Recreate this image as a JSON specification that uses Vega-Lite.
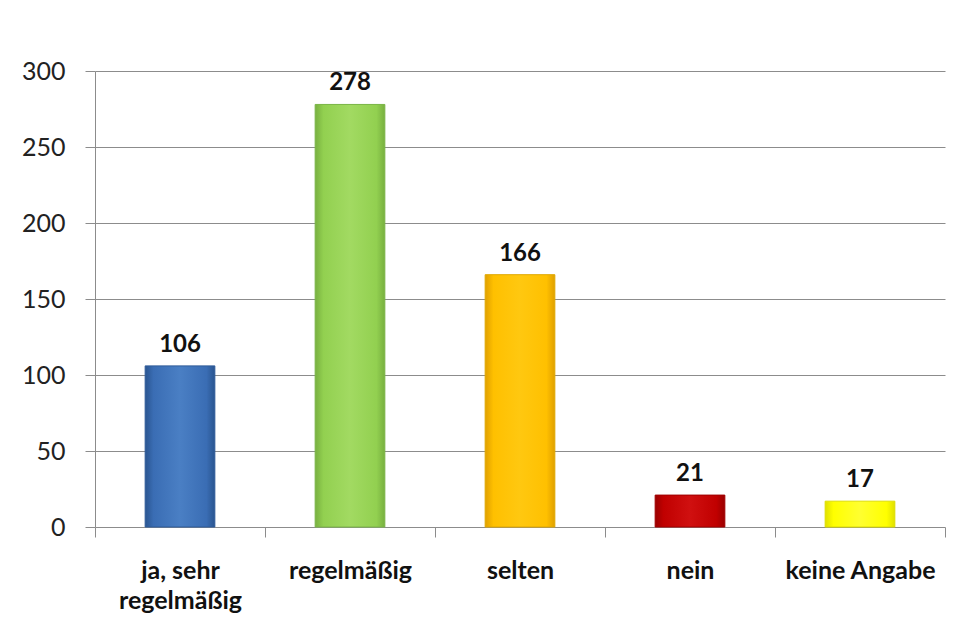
{
  "$schema": "https://vega.github.io/schema/vega-lite/v6.json",
  "autosize": "none",
  "width": 865,
  "height": 456,
  "padding": {"left": 95, "top": 71, "right": 2, "bottom": 103},
  "background": "white",
  "config": {"view": {"stroke": null}, "font": "Lato"},
  "data": {"values": [
    {"kat": "ja, sehr regelmäßig", "n": 106},
    {"kat": "regelmäßig", "n": 278},
    {"kat": "selten", "n": 166},
    {"kat": "nein", "n": 21},
    {"kat": "keine Angabe", "n": 17}
  ]},
  "encoding": {
    "x": {"field": "kat", "type": "nominal", "sort": null,
      "scale": {"paddingInner": 0, "paddingOuter": 0, "range": [0, 850]},
      "axis": {"title": null, "labelAngle": 0, "tickBand": "extent", "labelFontSize": 25, "labelFontWeight": "bold", "labelColor": "#111",
        "labelExpr": "datum.value == 'ja, sehr regelmäßig' ? ['ja, sehr', 'regelmäßig'] : datum.value",
        "labelPadding": 21, "labelLineHeight": 30, "domain": false, "tickColor": "#8c8c8c", "tickSize": 10, "grid": false}},
    "y": {"field": "n", "type": "quantitative",
      "scale": {"domain": [0, 300]},
      "axis": {"title": null, "values": [0, 50, 100, 150, 200, 250, 300], "labelFontSize": 25, "labelColor": "#222", "labelPadding": 20,
        "tickSize": 10, "tickColor": "#8c8c8c", "domainColor": "#8c8c8c", "gridColor": "#8c8c8c", "gridWidth": 1}}
  },
  "layer": [
    {"transform": [{"filter": "datum.kat == 'ja, sehr regelmäßig'"}],
     "mark": {"type": "bar", "width": {"band": 0.41}, "stroke": "#2d5a99", "strokeWidth": 1,
       "color": {"gradient": "linear", "x1": 0, "x2": 1, "y1": 0, "y2": 0, "stops": [
         {"offset": 0, "color": "#2a5590"}, {"offset": 0.12, "color": "#3a6db4"}, {"offset": 0.5, "color": "#4a7fc4"}, {"offset": 0.88, "color": "#3a6db4"}, {"offset": 1, "color": "#2a5590"}]}}},
    {"transform": [{"filter": "datum.kat == 'regelmäßig'"}],
     "mark": {"type": "bar", "width": {"band": 0.41}, "stroke": "#7ab546", "strokeWidth": 1,
       "color": {"gradient": "linear", "x1": 0, "x2": 1, "y1": 0, "y2": 0, "stops": [
         {"offset": 0, "color": "#78b040"}, {"offset": 0.12, "color": "#92d050"}, {"offset": 0.5, "color": "#a2da62"}, {"offset": 0.88, "color": "#92d050"}, {"offset": 1, "color": "#78b040"}]}}},
    {"transform": [{"filter": "datum.kat == 'selten'"}],
     "mark": {"type": "bar", "width": {"band": 0.41}, "stroke": "#e0a800", "strokeWidth": 1,
       "color": {"gradient": "linear", "x1": 0, "x2": 1, "y1": 0, "y2": 0, "stops": [
         {"offset": 0, "color": "#e0a000"}, {"offset": 0.12, "color": "#ffc000"}, {"offset": 0.5, "color": "#ffc810"}, {"offset": 0.88, "color": "#ffc000"}, {"offset": 1, "color": "#e0a000"}]}}},
    {"transform": [{"filter": "datum.kat == 'nein'"}],
     "mark": {"type": "bar", "width": {"band": 0.41}, "stroke": "#a00000", "strokeWidth": 1,
       "color": {"gradient": "linear", "x1": 0, "x2": 1, "y1": 0, "y2": 0, "stops": [
         {"offset": 0, "color": "#9a0000"}, {"offset": 0.12, "color": "#c00000"}, {"offset": 0.5, "color": "#d01010"}, {"offset": 0.88, "color": "#c00000"}, {"offset": 1, "color": "#9a0000"}]}}},
    {"transform": [{"filter": "datum.kat == 'keine Angabe'"}],
     "mark": {"type": "bar", "width": {"band": 0.41}, "stroke": "#dede00", "strokeWidth": 1,
       "color": {"gradient": "linear", "x1": 0, "x2": 1, "y1": 0, "y2": 0, "stops": [
         {"offset": 0, "color": "#e0e000"}, {"offset": 0.12, "color": "#ffff00"}, {"offset": 0.5, "color": "#ffff30"}, {"offset": 0.88, "color": "#ffff00"}, {"offset": 1, "color": "#e0e000"}]}}},
    {"mark": {"type": "text", "dy": -21, "fontSize": 24, "fontWeight": "bold", "color": "#111"},
     "encoding": {"text": {"field": "n", "type": "quantitative"}}}
  ]
}
